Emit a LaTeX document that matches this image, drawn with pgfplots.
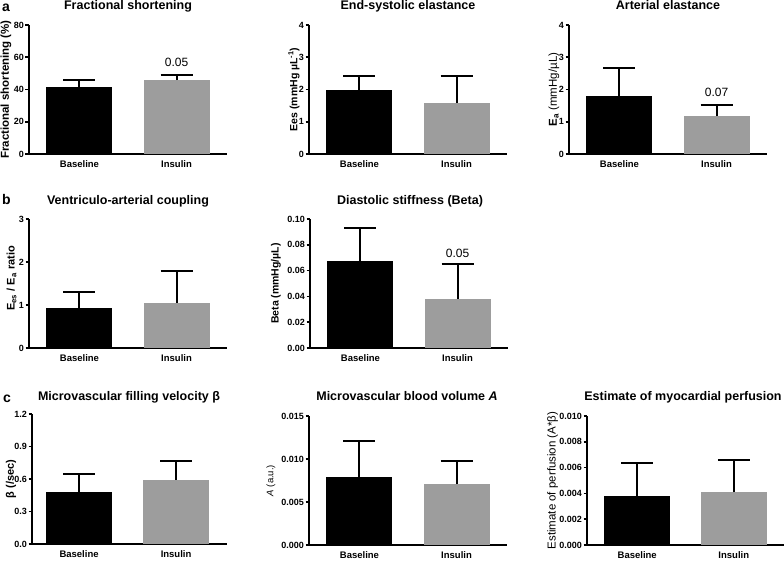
\documentclass[border=0pt]{standalone}
\usepackage{pgfplots}
\pgfplotsset{compat=1.18}
\usepackage{fontspec}
\setmainfont{Liberation Sans}
\definecolor{bargray}{RGB}{157,157,157}
\newcommand{\tfont}{\fontsize{12.5}{14}\selectfont\bfseries}
\pgfplotsset{
  panel/.style={
    scale only axis, width=198pt, height=129pt,
    anchor=south west,
    axis x line*=bottom, axis y line*=left,
    axis line style={line width=2pt,-},
    xmin=-0.52, xmax=1.52, ymin=0,
    xtick={0,1}, xticklabels={Baseline,Insulin},
    x tick style={draw=none},
    y tick style={line width=1.6pt,black},
    tick align=outside, major tick length=3.5pt,
    xticklabel style={font=\fontsize{9.5}{11}\selectfont\bfseries},
    yticklabel style={font=\fontsize{9}{10}\selectfont\bfseries, inner sep=1.5pt},
    /pgf/number format/assume math mode=true,
    scaled y ticks=false,
    clip=false,
  },
  ylab/.style n args={3}{every axis y label/.style={at={(axis description cs:#1,#3)}, rotate=90, anchor=center, font=#2}},
  barB/.style={ybar, bar shift=0pt, bar width=66pt, fill=black, draw=none,
     error bars/y dir=plus, error bars/y explicit,
     error bars/error bar style={draw=black, line width=2pt},
     error bars/error mark options={rotate=90, draw=black, line width=2pt, mark size=16pt}},
  barI/.style={ybar, bar shift=0pt, bar width=66pt, fill=bargray, draw=none,
     error bars/y dir=plus, error bars/y explicit,
     error bars/error bar style={draw=black, line width=2pt},
     error bars/error mark options={rotate=90, draw=black, line width=2pt, mark size=16pt}},
}
\begin{document}
\begin{tikzpicture}
\useasboundingbox (0pt,0pt) rectangle (784pt,561pt);
% Row a
\node[anchor=base west, font=\fontsize{14}{16}\selectfont\bfseries, inner sep=0] at (2pt,549.5pt) {a};
\node[anchor=base, font=\tfont, inner sep=0] at (128pt,551pt) {Fractional shortening};
\node[anchor=base, font=\tfont, inner sep=0] at (408pt,551pt) {End-systolic elastance};
\node[anchor=base, font=\tfont, inner sep=0] at (668pt,551pt) {Arterial elastance};
\begin{axis}[panel, at={(29pt,407pt)}, ymax=80, ytick={0,20,40,60,80},
  ylabel={Fractional shortening (\%)}, ylab={-0.116}{\fontsize{11.5}{13}\selectfont\bfseries}{0.5}]
\addplot[barB] coordinates {(0,41.4) +- (0,4.6)};
\addplot[barI] coordinates {(1,45.8) +- (0,2.9)};
\node[font=\fontsize{12}{14}\selectfont] at (axis cs:1,57) {0.05};
\end{axis}
\begin{axis}[panel, at={(309pt,407pt)}, ymax=4, ytick={0,1,2,3,4},
  ylabel={Ees (mmHg µL\textsuperscript{-1})}, ylab={-0.076}{\fontsize{10.5}{12}\selectfont\bfseries}{0.5}]
\addplot[barB] coordinates {(0,1.99) +- (0,0.42)};
\addplot[barI] coordinates {(1,1.58) +- (0,0.84)};
\end{axis}
\begin{axis}[panel, at={(569pt,407pt)}, ymax=4, ytick={0,1,2,3,4},
  ylabel={E\textsubscript{a} \mdseries(mmHg/µL)}, ylab={-0.076}{\fontsize{11.5}{13}\selectfont\bfseries}{0.5}]
\addplot[barB] coordinates {(0,1.81) +- (0,0.86)};
\addplot[barI] coordinates {(1,1.175) +- (0,0.33)};
\node[font=\fontsize{12}{14}\selectfont] at (axis cs:1,1.92) {0.07};
\end{axis}
% Row b
\node[anchor=base west, font=\fontsize{14}{16}\selectfont\bfseries, inner sep=0] at (2pt,356pt) {b};
\node[anchor=base, font=\tfont, inner sep=0] at (128pt,356pt) {Ventriculo-arterial coupling};
\node[anchor=base, font=\tfont, inner sep=0] at (410pt,356pt) {Diastolic stiffness (Beta)};
\begin{axis}[panel, at={(29pt,213pt)}, ymax=3, ytick={0,1,2,3},
  ylabel={E\textsubscript{es} / E\textsubscript{a} ratio}, ylab={-0.088}{\fontsize{11}{13}\selectfont\bfseries}{0.54}]
\addplot[barB] coordinates {(0,0.93) +- (0,0.365)};
\addplot[barI] coordinates {(1,1.047) +- (0,0.753)};
\end{axis}
\begin{axis}[panel, at={(310pt,213pt)}, ymax=0.1, ytick={0,0.02,0.04,0.06,0.08,0.1},
  yticklabel style={/pgf/number format/fixed, /pgf/number format/fixed zerofill, /pgf/number format/precision=2},
  ylabel={Beta (mmHg/µL)}, ylab={-0.172}{\fontsize{10.5}{12}\selectfont\bfseries}{0.5}]
\addplot[barB] coordinates {(0,0.0672) +- (0,0.0261)};
\addplot[barI] coordinates {(1,0.0382) +- (0,0.0267)};
\node[font=\fontsize{12}{14}\selectfont] at (axis cs:1,0.0736) {0.05};
\end{axis}
% Row c
\node[anchor=base west, font=\fontsize{14}{16}\selectfont\bfseries, inner sep=0] at (3pt,158.5pt) {c};
\node[anchor=base, font=\tfont, inner sep=0] at (129pt,160.5pt) {Microvascular filling velocity β};
\node[anchor=base, font=\tfont, inner sep=0] at (407pt,160.5pt) {Microvascular blood volume \textit{A}};
\node[anchor=base, font=\tfont, inner sep=0] at (683pt,160.5pt) {Estimate of myocardial perfusion};
\begin{axis}[panel, at={(32pt,17pt)}, width=195pt, height=130pt, xmin=-0.485, xmax=1.525,
  ymax=1.2, ytick={0,0.3,0.6,0.9,1.2},
  yticklabel style={/pgf/number format/fixed, /pgf/number format/fixed zerofill, /pgf/number format/precision=1},
  ylabel={β (/sec)}, ylab={-0.108}{\fontsize{11}{13}\selectfont\bfseries}{0.5}]
\addplot[barB] coordinates {(0,0.483) +- (0,0.16)};
\addplot[barI] coordinates {(1,0.594) +- (0,0.169)};
\end{axis}
\begin{axis}[panel, at={(309pt,16pt)}, ymax=0.015, ytick={0,0.005,0.01,0.015},
  yticklabel style={/pgf/number format/fixed, /pgf/number format/fixed zerofill, /pgf/number format/precision=3},
  ylabel={\textit{A} (a.u.)}, ylab={-0.192}{\fontsize{9.5}{11}\selectfont}{0.5}]
\addplot[barB] coordinates {(0,0.00795) +- (0,0.0041)};
\addplot[barI] coordinates {(1,0.00709) +- (0,0.00264)};
\end{axis}
\begin{axis}[panel, at={(587pt,16pt)}, width=197pt, ymax=0.01, ytick={0,0.002,0.004,0.006,0.008,0.01},
  yticklabel style={/pgf/number format/fixed, /pgf/number format/fixed zerofill, /pgf/number format/precision=3},
  ylabel={Estimate of perfusion (A*β)}, ylab={-0.175}{\fontsize{11.5}{13}\selectfont}{0.5}]
\addplot[barB] coordinates {(0,0.0038) +- (0,0.00258)};
\addplot[barI] coordinates {(1,0.00408) +- (0,0.00248)};
\end{axis}
\end{tikzpicture}
\end{document}
